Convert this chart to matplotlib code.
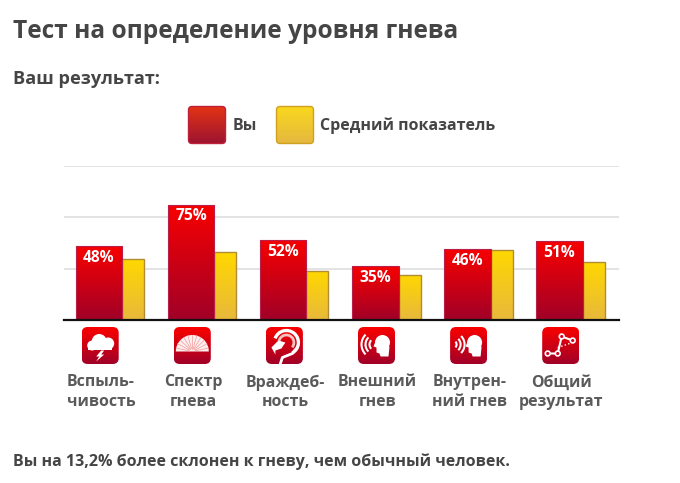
#!/usr/bin/python3
# coding=utf-8
"""Bar chart of anger test results, you vs. average"""

import numpy as np
import matplotlib
matplotlib.use("Agg")
import matplotlib.pyplot as plt
from matplotlib.colors import LinearSegmentedColormap
from matplotlib.patches import Rectangle, FancyBboxPatch, Circle, Ellipse, Wedge, Polygon, Arc

plt.rcParams["font.family"] = ["Open Sans", "DejaVu Sans"]
plt.rcParams["font.weight"] = "bold"

categories = ["Вспыль-\nчивость", "Спектр\nгнева", "Враждеб-\nность",
              "Внешний\nгнев", "Внутрен-\nний гнев", "Общий\nрезультат"]
you_values = [48, 75, 52, 35, 46, 51]
avg_values = [39.3, 44, 31.5, 29.5, 45.5, 37.5]
grid_values = [33.33, 66.67, 100]
legend_labels = ["Вы", "Средний показатель"]

W, H = 680, 483
TEXT = "#454545"


def grad_fill(ax, patch, top, bottom):
    """Fill the patch with a vertical gradient"""
    cmap = LinearSegmentedColormap.from_list("g", [top, bottom], N=256)
    x0, y0, w, h = patch.get_x(), patch.get_y(), patch.get_width(), patch.get_height()
    img = ax.imshow(np.linspace(0, 1, 256).reshape(-1, 1), cmap=cmap, aspect="auto",
                    extent=(x0, x0 + w, y0, y0 + h), origin="upper",
                    zorder=patch.get_zorder() - 0.1, interpolation="bilinear")
    img.set_clip_path(patch)


def round_box(ax, x, y, size, top, bottom, edge=None, radius=5):
    box = FancyBboxPatch((x + radius, y + radius), size - 2 * radius, size - 2 * radius,
                         boxstyle=f"round,pad={radius},rounding_size={radius}",
                         fc="none", ec=edge if edge else "none", lw=1, zorder=3)
    ax.add_patch(box)
    cmap = LinearSegmentedColormap.from_list("g", [top, bottom], N=256)
    img = ax.imshow(np.linspace(0, 1, 256).reshape(-1, 1), cmap=cmap, aspect="auto",
                    extent=(x, x + size, y + size, y), origin="upper", zorder=2.5,
                    interpolation="bilinear")
    img.set_clip_path(box)


def icon_cloud(ax, c, m):
    for dx, dy, r in [(-8, 0, 5), (-1, -4, 7.5), (8, -2, 6)]:
        ax.add_patch(Circle((c + dx, m + dy), r, fc="white", ec="none", zorder=4))
    ax.add_patch(Rectangle((c - 12, m - 1), 24, 5, fc="white", ec="none", zorder=4))
    ax.add_patch(Polygon([(c + 1, m + 5), (c - 4, m + 11), (c - 1, m + 11), (c - 4, m + 16),
                          (c + 4, m + 9), (c + 1, m + 9), (c + 4, m + 5)], fc="white", ec="none", zorder=4))


def icon_fan(ax, c, m):
    ax.add_patch(Wedge((c, m + 6), 16.5, 180, 360, fc="#fdeeee", ec="none", zorder=4))
    for a in np.linspace(192, 348, 11):
        t = np.radians(a)
        ax.plot([c + 3 * np.cos(t), c + 16.5 * np.cos(t)], [m + 6 + 3 * np.sin(t), m + 6 + 16.5 * np.sin(t)],
                color="#f59a9a", lw=0.5, zorder=5)


def icon_snake(ax, c, m):
    ax.add_patch(Arc((c + 2, m - 3), 24, 24, theta1=200, theta2=420, color="white", lw=2.4, zorder=4))
    ax.add_patch(Arc((c + 2, m - 3), 15, 15, theta1=190, theta2=400, color="#f8c0c0", lw=2, zorder=4))
    ax.plot([c + 12, c + 8, c - 2, c - 4], [m + 3, m + 8, m + 12, m + 18], color="white", lw=2, zorder=4)
    ax.add_patch(Polygon([(c - 13, m + 2), (c - 6, m - 5), (c + 1, m - 3), (c - 3, m + 3), (c - 9, m + 5),
                          (c - 9, m + 9)], fc="white", ec="none", zorder=4))


def icon_head(ax, c, m, outward):
    ax.add_patch(Ellipse((c + 6, m - 3), 15, 15, fc="white", ec="none", zorder=4))
    ax.add_patch(Polygon([(c - 1, m - 4), (c - 3, m + 1), (c, m + 2), (c, m + 7), (c + 3, m + 8),
                          (c + 4, m + 11), (c + 12, m + 11), (c + 13, m + 1)], fc="white", ec="none", zorder=4))
    if outward:
        centre, radii, theta = c - 1, [6, 10, 14], (135, 225)
    else:
        centre, radii, theta = c - 16, [4, 8, 12], (-45, 45)
    for r in radii:
        ax.add_patch(Arc((centre, m - 1), 2 * r, 2 * r, theta1=theta[0], theta2=theta[1], color="white",
                         lw=1.5, zorder=4))


def icon_net(ax, c, m):
    xs = [c - 13, c - 3, c + 1, c + 12]
    ys = [m + 8, m + 8, m - 9, m - 5]
    ax.plot(xs, ys, color="white", lw=1.5, zorder=4)
    ax.plot([c - 3, c + 9], [m + 2, m - 2], color="white", lw=1, ls=":", zorder=4)
    for x, y in zip(xs, ys):
        ax.add_patch(Circle((x, y), 2.4, fc="#d8001c", ec="white", lw=1.2, zorder=5))


fig = plt.figure(figsize=(W / 100, H / 100), dpi=100, facecolor="white")

# chart area, placed to the pixel
step = 92.1
centre0 = 110.0
ax = fig.add_axes([64 / W, 1 - 320 / H, (619 - 64) / W, 154 / H])
for s in ax.spines.values():
    s.set_visible(False)
ax.spines["bottom"].set_visible(True)
ax.spines["bottom"].set_linewidth(1.6)
ax.spines["bottom"].set_color("#111111")
ax.spines["bottom"].set_zorder(6)
ax.tick_params(left=False, bottom=False, labelleft=False, labelbottom=False)
ax.set_yticks(grid_values)
ax.yaxis.grid(True, color="#dedede", lw=1.2, zorder=0)
ax.set_axisbelow(True)
ax.patch.set_alpha(0)

red_w = 46.5 / step
yel_w = 22 / step
x = np.arange(len(categories))
red_left = x - (red_w + yel_w) / 2
yel_left = red_left + red_w
for i in range(len(categories)):
    rb = ax.bar(yel_left[i], avg_values[i], yel_w, align="edge", fc="none", ec="#b08d35", lw=1, zorder=3)[0]
    grad_fill(ax, rb, "#ffd800", "#e8b83c")
    rr = ax.bar(red_left[i], you_values[i], red_w, align="edge", fc="none", ec="#b8204a", lw=0.8, zorder=4)[0]
    grad_fill(ax, rr, "#f80000", "#a00028")
    ax.text(red_left[i] + red_w / 2, you_values[i] - 7.6, f"{you_values[i]}%", color="white",
            fontsize=11.2, ha="center", va="center", zorder=5)
# imshow resets the limits, so set them after the bars
ax.set_xlim((64 - centre0) / step, (619 - centre0) / step)
ax.set_ylim(0, 100)

# overlay in pixel coordinates for texts, legend and icons
ov = fig.add_axes([0, 0, 1, 1], zorder=5)
ov.axis("off")

ov.text(13, 31, "Тест на определение уровня гнева", fontsize=17.65, color=TEXT, va="center")
ov.text(13, 79, "Ваш результат:", fontsize=13.1, color=TEXT, va="center")
ov.text(13, 462, "Вы на 13,2% более склонен к гневу, чем обычный человек.", fontsize=11.5, color=TEXT, va="center")

round_box(ov, 188.5, 106.5, 37, "#e43414", "#9c1430", edge="#c0203a", radius=3.5)
ov.text(233, 125.5, legend_labels[0], fontsize=11.5, color=TEXT, va="center")
round_box(ov, 276.5, 106.5, 37, "#fad81c", "#e5b840", edge="#d0a020", radius=3.5)
ov.text(320.5, 125.5, legend_labels[1], fontsize=11.5, color=TEXT, va="center")

icon_x = [100.2 + step * i for i in range(len(categories))]
icons = [icon_cloud, icon_fan, icon_snake,
         lambda a, c, m: icon_head(a, c, m, True),
         lambda a, c, m: icon_head(a, c, m, False), icon_net]
for c, label, draw in zip(icon_x, categories, icons):
    round_box(ov, c - 18.5, 327, 37, "#fa0000", "#a00028", radius=6)
    draw(ov, c, 345.5)
    first, second = label.split("\n")
    ov.text(c + 0.7, 382.5, first, fontsize=11.4, color="#5a5a5a", ha="center", va="center")
    ov.text(c + 0.7, 402, second, fontsize=11.4, color="#5a5a5a", ha="center", va="center")
ov.set_xlim(0, W)
ov.set_ylim(H, 0)

fig.savefig("out.png", dpi=100)
